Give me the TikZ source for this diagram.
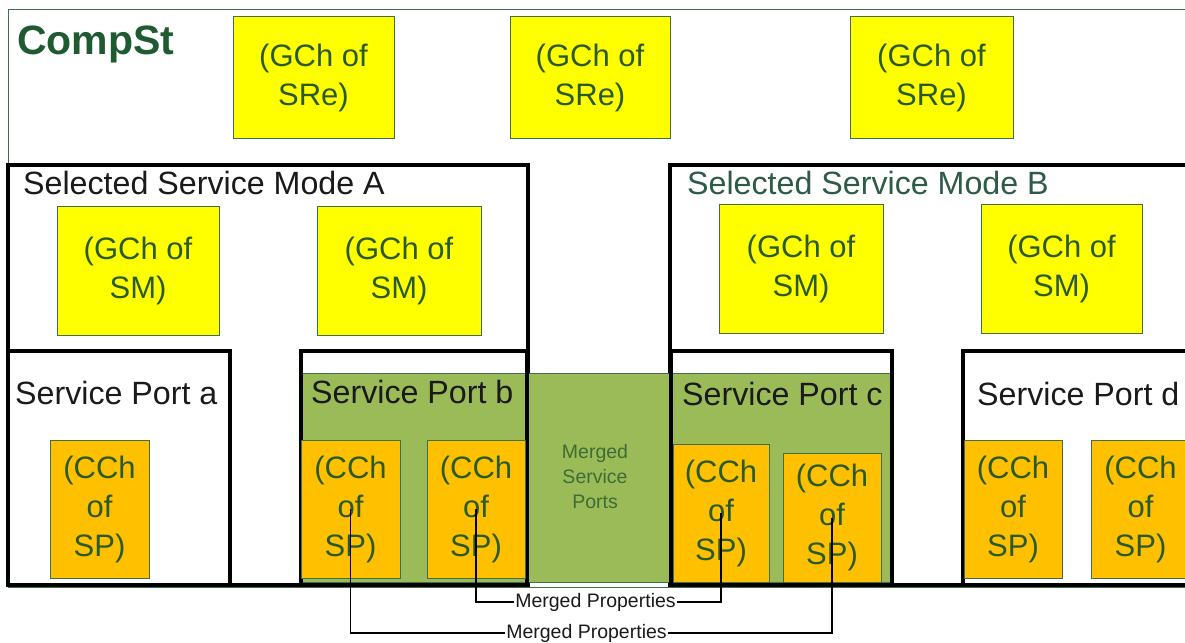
\documentclass[tikz,border=0pt]{standalone}
\usepackage{fontspec}
\setmainfont{Liberation Sans}
\definecolor{dkgreen}{HTML}{1F5A30}
\definecolor{txtgreen}{HTML}{2A5A2A}
\definecolor{frameg}{HTML}{3E6E4E}
\definecolor{mgreen}{HTML}{9BBB59}
\definecolor{mtext}{HTML}{3F6B35}
\definecolor{ssmb}{HTML}{2E5A48}
\definecolor{yel}{HTML}{FFFF00}
\definecolor{org}{HTML}{FFC000}
\definecolor{txtblack}{HTML}{1A1A1A}
\tikzset{
  boxat/.style n args={4}{minimum width={#3-#1}, minimum height={#4-#2}, inner sep=0pt, outer sep=0pt},
  gch/.style={draw=frameg, line width=1pt, fill=yel, text=txtgreen, align=center,
     font=\fontsize{31}{39}\selectfont},
  cch/.style={draw=frameg, line width=1pt, fill=org, text=txtgreen, align=center,
     font=\fontsize{31}{39}\selectfont},
  thickbox/.style={draw=black, line width=4.5pt},
  title/.style={anchor=base west, inner sep=0pt, font=\fontsize{32.2}{38}\selectfont},
  mlabel/.style={inner sep=1.5pt, text=txtblack, font=\fontsize{19.5}{24}\selectfont},
  conn/.style={draw=black, line width=1.2pt},
}
\begin{document}
\begin{tikzpicture}[x=1pt,y=-1pt]
\useasboundingbox (0,0) rectangle (1185,642);
\clip (0,0) rectangle (1185,642);
% CompSt frame
\node[draw=frameg, line width=1pt, fill=white, boxat={8}{10}{1220}{587}] (compst) at (614,298.5) {};
\node[anchor=base west, inner sep=0pt, text=dkgreen, font=\fontsize{41}{46}\selectfont\bfseries] (compsttitle) at (17,55) {CompSt};
% selected service modes
\node[thickbox, boxat={8}{165}{528}{585}] (ssmA) at (268,375) {};
\node[thickbox, boxat={670}{165}{1220}{585}] (ssmB) at (945,375) {};
% merged ports region
\node[draw=frameg, line width=1pt, fill=mgreen, boxat={300}{373}{892}{582}] (merged) at (596,477.5) {};
% service ports
\node[thickbox, boxat={8}{351}{230}{585}] (spa) at (119,468) {};
\node[thickbox, boxat={301}{351}{527}{585}] (spb) at (414,468) {};
\node[thickbox, boxat={671}{351}{892}{585}] (spc) at (781.5,468) {};
\node[thickbox, boxat={963}{351}{1220}{585}] (spd) at (1091.5,468) {};
% titles
\node[title, text=txtblack] (tA) at (23,194) {Selected Service Mode A};
\node[title, text=ssmb] (tB) at (687,194) {Selected Service Mode B};
\node[title, text=txtblack] (ta) at (15,404) {Service Port a};
\node[title, text=txtblack] (tb) at (311,403) {Service Port b};
\node[title, text=txtblack] (tc) at (682,405) {Service Port c};
\node[title, text=txtblack] (td) at (977,405) {Service Port d};
\node[text=mtext, align=center, inner sep=0pt, font=\fontsize{19.5}{25}\selectfont] (mtxt) at (595,477) {Merged\\Service\\Ports};
% GCh of SRe
\node[gch, boxat={233}{17}{394}{138}] (sre1) at (313.5,77.5) {(GCh of\\SRe)};
\node[gch, boxat={510}{17}{670}{138}] (sre2) at (590,77.5) {(GCh of\\SRe)};
\node[gch, boxat={850}{17}{1013}{138}] (sre3) at (931.5,77.5) {(GCh of\\SRe)};
% GCh of SM
\node[gch, boxat={57}{206}{219}{335}] (smA1) at (138,270.5) {(GCh of\\SM)};
\node[gch, boxat={317}{206}{481}{335}] (smA2) at (399,270.5) {(GCh of\\SM)};
\node[gch, boxat={719}{204}{883}{333}] (smB1) at (801,268.5) {(GCh of\\SM)};
\node[gch, boxat={981}{204}{1142}{333}] (smB2) at (1061.5,268.5) {(GCh of\\SM)};
% CCh of SP
\node[cch, boxat={50}{440}{149}{578}] (ca) at (99.5,509) {(CCh\\of\\SP)};
\node[cch, boxat={301}{440}{400}{578}] (cb1) at (350.5,509) {(CCh\\of\\SP)};
\node[cch, boxat={427}{440}{525}{578}] (cb2) at (476,509) {(CCh\\of\\SP)};
\node[cch, boxat={673}{444}{769}{582}] (cc1) at (721,513) {(CCh\\of\\SP)};
\node[cch, boxat={783}{453}{881}{582}] (cc2) at (832,517.5) {(CCh\\of\\SP)};
\node[cch, boxat={964}{440}{1062}{578}] (cd1) at (1013,509) {(CCh\\of\\SP)};
\node[cch, boxat={1091}{440}{1190}{578}] (cd2) at (1140.5,509) {(CCh\\of\\SP)};
% merged properties connectors
\node[mlabel] (mp1) at (595.5,602) {Merged Properties};
\node[mlabel] (mp2) at (586.5,633) {Merged Properties};
\draw[conn] (cb2.center) |- (mp1.west);
\draw[conn] (mp1.east) -| (cc1.center);
\draw[conn] (cb1.center) |- (mp2.west);
\draw[conn] (mp2.east) -| (cc2.center);
\end{tikzpicture}
\end{document}
